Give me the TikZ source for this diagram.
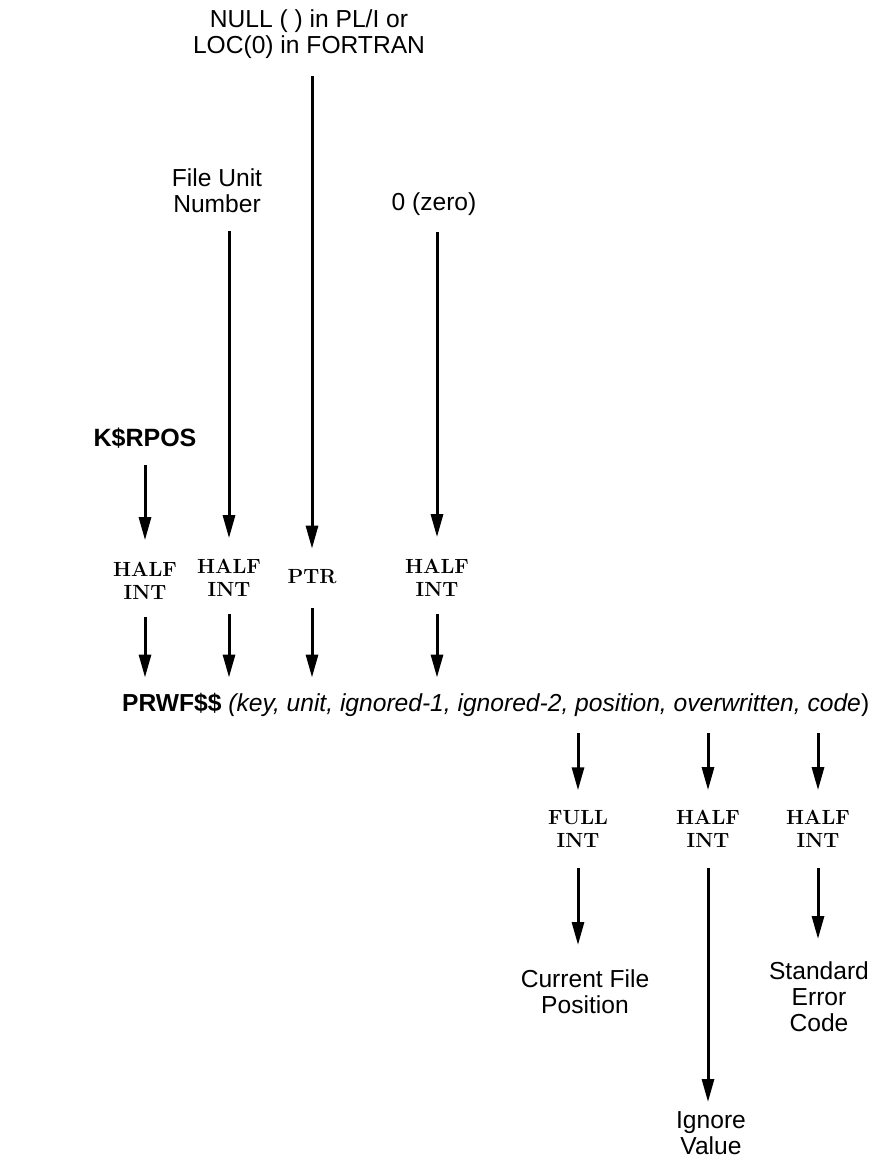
\documentclass[tikz,border=0pt]{standalone}
\usepackage{fontspec}
\newfontfamily\hv{Liberation Sans}
\usetikzlibrary{arrows.meta,calc}
\begin{document}
\begin{tikzpicture}[x=1pt,y=-1pt,
  lbl/.style={font=\hv\fontsize{24.6}{26}\selectfont, align=center, inner sep=0pt},
  boldlbl/.style={font=\hv\bfseries\fontsize{25}{26}\selectfont, inner sep=0pt},
  typ/.style={font=\bfseries\fontsize{20.5}{23}\selectfont, align=center, inner sep=0pt},
  arr/.style={line width=3pt, -{Triangle[length=23pt,width=12pt]}}]
\useasboundingbox (0,0) rectangle (878,1162);
\fill[white] (0,0) rectangle (878,1162);

% source texts
\node[lbl, anchor=north] (null) at (309,9) {NULL ( ) in PL/I or\\LOC(0) in FORTRAN};
\node[lbl, anchor=north] (fun) at (217,168) {File Unit\\Number};
\node[lbl, anchor=base] (zero) at (434,210) {0 (zero)};
\node[boldlbl, anchor=base] (krpos) at (145,446) {K\$RPOS};

% argument types
\node[typ] (t1) at (145,581) {HALF\\INT};
\node[typ] (t2) at (229,578) {HALF\\INT};
\node[typ] (t3) at (312,577) {PTR};
\node[typ] (t4) at (437,578) {HALF\\INT};

% call
\node[lbl, anchor=base west] (call) at (122,711) {\textbf{PRWF\$\$} \textit{(key, unit, ignored-1, ignored-2, position, overwritten, code})};

% output types
\node[typ] (t5) at (578,829) {FULL\\INT};
\node[typ] (t6) at (708,829) {HALF\\INT};
\node[typ] (t7) at (818,829) {HALF\\INT};

% results
\node[lbl, anchor=north] (cfp) at (585,969) {Current File\\Position};
\node[lbl, anchor=north] (iv) at (711,1111) {Ignore\\Value};
\node[lbl, anchor=north] (sec) at (819,961) {Standard\\Error\\Code};

% input arrows
\draw[arr] ($(null.south -| t3)+(0,18)$) -- ($(t3.north)+(0,-21)$);
\draw[arr] ($(fun.south -| t2)+(0,19)$) -- ($(t2.north)+(0,-21)$);
\draw[arr] ($(zero.south -| t4)+(0,17)$) -- ($(t4.north)+(0,-22)$);
\draw[arr] ($(krpos.south -| t1)+(0,17)$) -- ($(t1.north)+(0,-22)$);

\draw[arr] ($(t1.south)+(0,17)$) -- ($(call.north -| t1)+(0,-15)$);
\draw[arr] ($(t2.south)+(0,17)$) -- ($(call.north -| t2)+(0,-15)$);
\draw[arr] ($(t3.south)+(0,24)$) -- ($(call.north -| t3)+(0,-15)$);
\draw[arr] ($(t4.south)+(0,17)$) -- ($(call.north -| t4)+(0,-15)$);

% output arrows
\draw[arr] ($(call.south -| t5)+(0,17)$) -- ($(t5.north)+(0,-20)$);
\draw[arr] ($(call.south -| t6)+(0,17)$) -- ($(t6.north)+(0,-20)$);
\draw[arr] ($(call.south -| t7)+(0,17)$) -- ($(t7.north)+(0,-20)$);

\draw[arr] ($(t5.south)+(0,20)$) -- ($(cfp.north -| t5)+(0,-24)$);
\draw[arr] ($(t6.south)+(0,20)$) -- ($(iv.north -| t6)+(0,-9)$);
\draw[arr] ($(t7.south)+(0,20)$) -- ($(sec.north -| t7)+(0,-22)$);
\end{tikzpicture}
\end{document}
